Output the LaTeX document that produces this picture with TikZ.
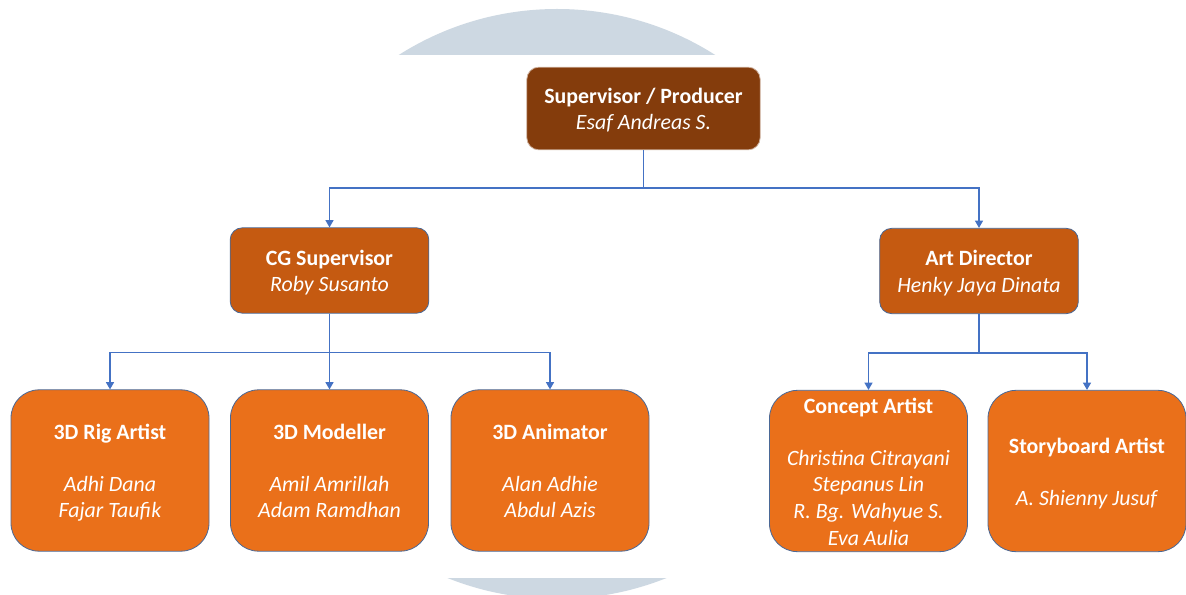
\documentclass[tikz,border=0pt]{standalone}
\usepackage{fontspec}
\setmainfont{Carlito}
\usetikzlibrary{positioning, arrows.meta, calc}

\definecolor{producerbrown}{HTML}{843C0C}
\definecolor{leadorange}{HTML}{C55A11}
\definecolor{creworange}{HTML}{EA701A}
\definecolor{linkblue}{HTML}{4472C4}
\definecolor{boxedge}{HTML}{4A6896}
\definecolor{discgrey}{HTML}{CDD8E2}

\newcommand{\hstrut}{\rule{0pt}{17pt}}
\newcommand{\dstrut}{\rule[-5pt]{0pt}{5pt}}

\tikzset{
	role/.style={rectangle, draw=boxedge, line width=0.6pt, text=white,
		align=center, inner sep=0pt, font=\fontsize{16.4}{20}\selectfont},
	head/.style={role, rounded corners=9pt, fill=producerbrown, draw=producerbrown!40,
		minimum width=175pt, minimum height=62pt},
	chief/.style={role, rounded corners=9pt, fill=leadorange,
		minimum width=149pt, minimum height=64pt},
	team/.style={role, rounded corners=21pt, fill=creworange,
		minimum width=148.5pt, minimum height=121pt},
	link/.style={draw=linkblue, line width=1.1pt, -{Triangle[width=6pt,length=5.5pt]}}
}

\begin{document}
\begin{tikzpicture}[x=0.75pt, y=-0.75pt]
	\useasboundingbox (0,0) rectangle (1186,595);
	\fill[white] (0,0) rectangle (1186,595);
	
	% Background disc
	\fill[discgrey] (557,304) circle (295);
	\fill[white] (0,55) rectangle (1186,578);
	
	% Producer
	\node[head] (producer) at (643.5,108.5)
	{\hstrut\textbf{Supervisor / Producer}\\\dstrut\textit{Esaf Andreas S.}};
	
	% Leads
	\node[chief] (cgsup) at ($(producer) + (-314,162)$)
	{\hstrut\textbf{CG Supervisor}\\\dstrut\textit{Roby Susanto}};
	\node[chief] (artdir) at ($(producer) + (335.5,162.5)$)
	{\hstrut\textbf{Art Director}\\\dstrut\textit{Henky Jaya Dinata}};
	
	% Teams
	\node[team] (rig) at ($(cgsup) + (-219.5,200)$)
	{\hstrut\textbf{3D Rig Artist}\\[19pt]\textit{Adhi Dana}\\\dstrut\textit{Fajar Taufik}};
	\node[team] (modeller) at ($(cgsup) + (0,200)$)
	{\hstrut\textbf{3D Modeller}\\[19pt]\textit{Amil Amrillah}\\\dstrut\textit{Adam Ramdhan}};
	\node[team] (animator) at ($(cgsup) + (220.5,200)$)
	{\hstrut\textbf{3D Animator}\\[19pt]\textit{Alan Adhie}\\\dstrut\textit{Abdul Azis}};
	
	\node[team] (concept) at ($(artdir) + (-110.5,200)$)
	{\hstrut\textbf{Concept Artist}\\[19pt]\textit{Christina Citrayani}\\\textit{Stepanus Lin}\\\textit{R. Bg. Wahyue S.}\\\dstrut\textit{Eva Aulia}};
	\node[team] (story) at ($(artdir) + (108,200)$)
	{\hstrut\textbf{Storyboard Artist}\\[19pt]\dstrut\textit{A. Shienny Jusuf}};
	
	% Connections
	\draw[link] (producer.south) -- ++(0,38) -| (cgsup.north);
	\draw[link] (producer.south) -- ++(0,38) -| (artdir.north);
	
	\draw[link] (cgsup.south) -- ++(0,39) -| (rig.north);
	\draw[link] (cgsup.south) -- (modeller.north);
	\draw[link] (cgsup.south) -- ++(0,39) -| (animator.north);
	
	\draw[link] (artdir.south) -- ++(0,39) -| (concept.north);
	\draw[link] (artdir.south) -- ++(0,39) -| (story.north);
\end{tikzpicture}
\end{document}
